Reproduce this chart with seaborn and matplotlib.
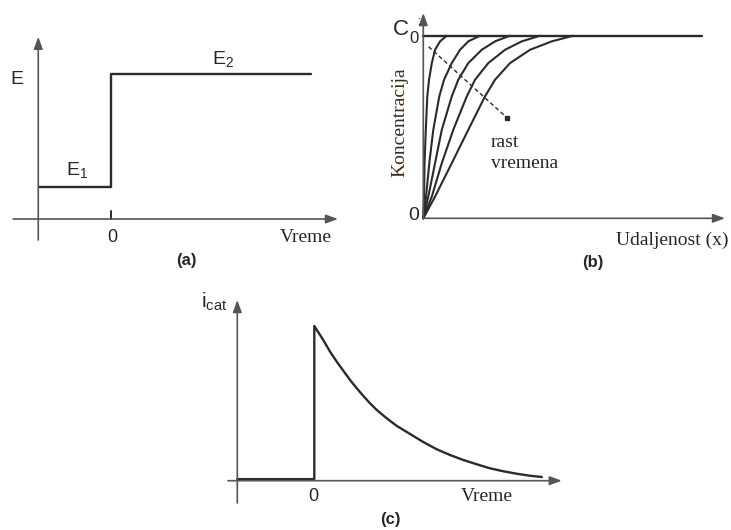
import matplotlib
matplotlib.use('Agg')
import matplotlib.pyplot as plt
import seaborn as sns

# ── values ──
# (a) potential step: time and potential
step_t = [-2.9, 0.0, 0.0, 8.0]
step_E = [1.3, 1.3, 5.8, 5.8]

# (b) concentration profiles, distance vs C/C0, one list per time
prof_c = [0, 0.119, 0.302, 0.485, 0.668, 0.759, 0.85, 0.923, 0.969, 1.0]
prof_x = [
    [0, 0.03, 0.05, 0.10, 0.16, 0.23, 0.34, 0.47, 0.67, 0.94],
    [0, 0.11, 0.24, 0.40, 0.64, 0.83, 1.14, 1.47, 1.80, 2.27],
    [0, 0.20, 0.47, 0.74, 1.14, 1.40, 1.80, 2.34, 2.87, 3.47],
    [0, 0.34, 0.74, 1.20, 1.74, 2.07, 2.60, 3.27, 3.94, 4.67],
    [0, 0.47, 1.14, 1.80, 2.47, 2.87, 3.47, 4.27, 5.14, 6.00],
]
bulk_x = [0, 11.15]
bulk_c = [1.0, 1.0]

# (c) cathodic current transient
cur_t = [-3.08, 0.0, 0.0, 0.36, 0.63, 0.9, 1.16, 1.43, 1.7, 1.96, 2.23, 2.5,
         2.9, 3.3, 3.83, 4.36, 4.9, 5.43, 5.96, 6.5, 7.03, 7.56, 8.1, 8.63, 9.1]
cur_i = [0.01, 0.01, 1.0, 0.909, 0.834, 0.769, 0.711, 0.651, 0.597, 0.548, 0.5, 0.457,
         0.403, 0.354, 0.302, 0.25, 0.203, 0.166, 0.134, 0.106, 0.08, 0.061, 0.045, 0.032, 0.024]

sns.set_theme(style='white')
plt.rcParams['font.family'] = ['Liberation Sans', 'DejaVu Sans']
plt.rcParams['mathtext.fontset'] = 'custom'
plt.rcParams['mathtext.rm'] = 'Liberation Sans'
plt.rcParams['mathtext.it'] = 'Liberation Sans'

W, H = 731, 530
fig = plt.figure(figsize=(W / 100, H / 100), dpi=100)
fig.patch.set_facecolor('white')

LINE = '#2b2b2b'
AXC = '#555555'
SERIF = 'Liberation Serif'


def panel(box, origin, sx, sy):
    # box and origin in pixels (top-left origin); sx, sy = pixels per data unit
    x0, y0, x1, y1 = box
    ax = fig.add_axes([x0 / W, 1 - y1 / H, (x1 - x0) / W, (y1 - y0) / H])
    ox, oy = origin
    ax.set_xlim((x0 - ox) / sx, (x1 - ox) / sx)
    ax.set_ylim((oy - y1) / sy, (oy - y0) / sy)
    ax.axis('off')
    return ax


def arrow(ax, start, tip):
    ax.annotate('', xy=tip, xytext=start,
                arrowprops=dict(arrowstyle='-|>,head_length=0.6,head_width=0.22',
                                color=AXC, lw=1.2, shrinkA=0, shrinkB=0,
                                mutation_scale=12))


# ── (a) ──
ax = panel((0, 20, 350, 275), (111, 219), 25, 25)
arrow(ax, (-2.91, -0.84), (-2.91, 7.29))
arrow(ax, (-3.91, 0), (9.08, 0))
ax.plot([0, 0], [0, 0.33], color=LINE, lw=1.4)
sns.lineplot(x=step_t, y=step_E, sort=False, estimator=None,
             color=LINE, lw=1.7, ax=ax)
ax.text(-3.78, 5.6, 'E', fontsize=14, ha='center', va='center')
ax.text(-1.36, 1.96, r'E$_1$', fontsize=14, ha='center', va='center')
ax.text(4.48, 6.4, r'E$_2$', fontsize=14, ha='center', va='center')
ax.text(0.04, -0.72, '0', fontsize=13, ha='center', va='center')
ax.text(8.84, -0.76, 'Vreme', fontsize=14, family=SERIF, ha='right', va='center')
ax.text(3.0, -1.68, '(a)', fontsize=12, fontweight='bold', ha='center', va='center')

# ── (b) ──
ax = panel((375, 0, 731, 275), (423.3, 218.3), 25, 182.6)
arrow(ax, (0, 0), (0, 1.124))
arrow(ax, (0, 0), (12.07, 0))
sns.lineplot(x=bulk_x, y=bulk_c, sort=False, estimator=None,
             color=LINE, lw=1.7, ax=ax)
for xs in prof_x:
    sns.lineplot(x=xs, y=prof_c, sort=False, estimator=None,
                 color=LINE, lw=1.5, ax=ax)
ax.plot([0.21, 3.35], [0.94, 0.55], color=LINE, lw=1.0, ls=(0, (3, 2)))
ax.plot([3.35], [0.55], marker='s', ms=3.5, color=LINE)
ax.text(-0.88, 1.035, 'C', fontsize=16, ha='center', va='center')
ax.text(-0.36, 0.985, '0', fontsize=12, ha='center', va='center')
ax.text(-0.14, 1.075, ':', fontsize=9, ha='center', va='center')
ax.text(-0.95, 0.525, 'Koncentracija', fontsize=14, family=SERIF,
        color='#3b2a17', rotation=90, ha='center', va='center')
ax.text(-0.37, 0.015, '0', fontsize=14, ha='center', va='center')
ax.text(2.71, 0.36, 'rast\nvremena', fontsize=14, family=SERIF,
        ha='left', va='center', linespacing=1.3)
ax.text(12.19, -0.12, 'Udaljenost (x)', fontsize=14, family=SERIF,
        ha='right', va='center')
ax.text(6.79, -0.24, '(b)', fontsize=12, fontweight='bold', ha='center', va='center')

# ── (c) ──
ax = panel((190, 285, 590, 530), (314.3, 480.7), 25, 154.7)
arrow(ax, (-3.08, -0.144), (-3.08, 1.168))
arrow(ax, (-3.45, 0), (9.9, 0))
sns.lineplot(x=cur_t, y=cur_i, sort=False, estimator=None,
             color=LINE, lw=1.7, ax=ax)
ax.text(-4.0, 1.155, r'i$_{\mathrm{cat}}$', fontsize=15, ha='center', va='center')
ax.text(-0.05, -0.105, '0', fontsize=13, ha='center', va='center')
ax.text(7.95, -0.105, 'Vreme', fontsize=14, family=SERIF, ha='right', va='center')
ax.text(3.03, -0.254, '(c)', fontsize=12, fontweight='bold', ha='center', va='center')

plt.savefig('out.png', dpi=100, facecolor='white')
plt.close()
